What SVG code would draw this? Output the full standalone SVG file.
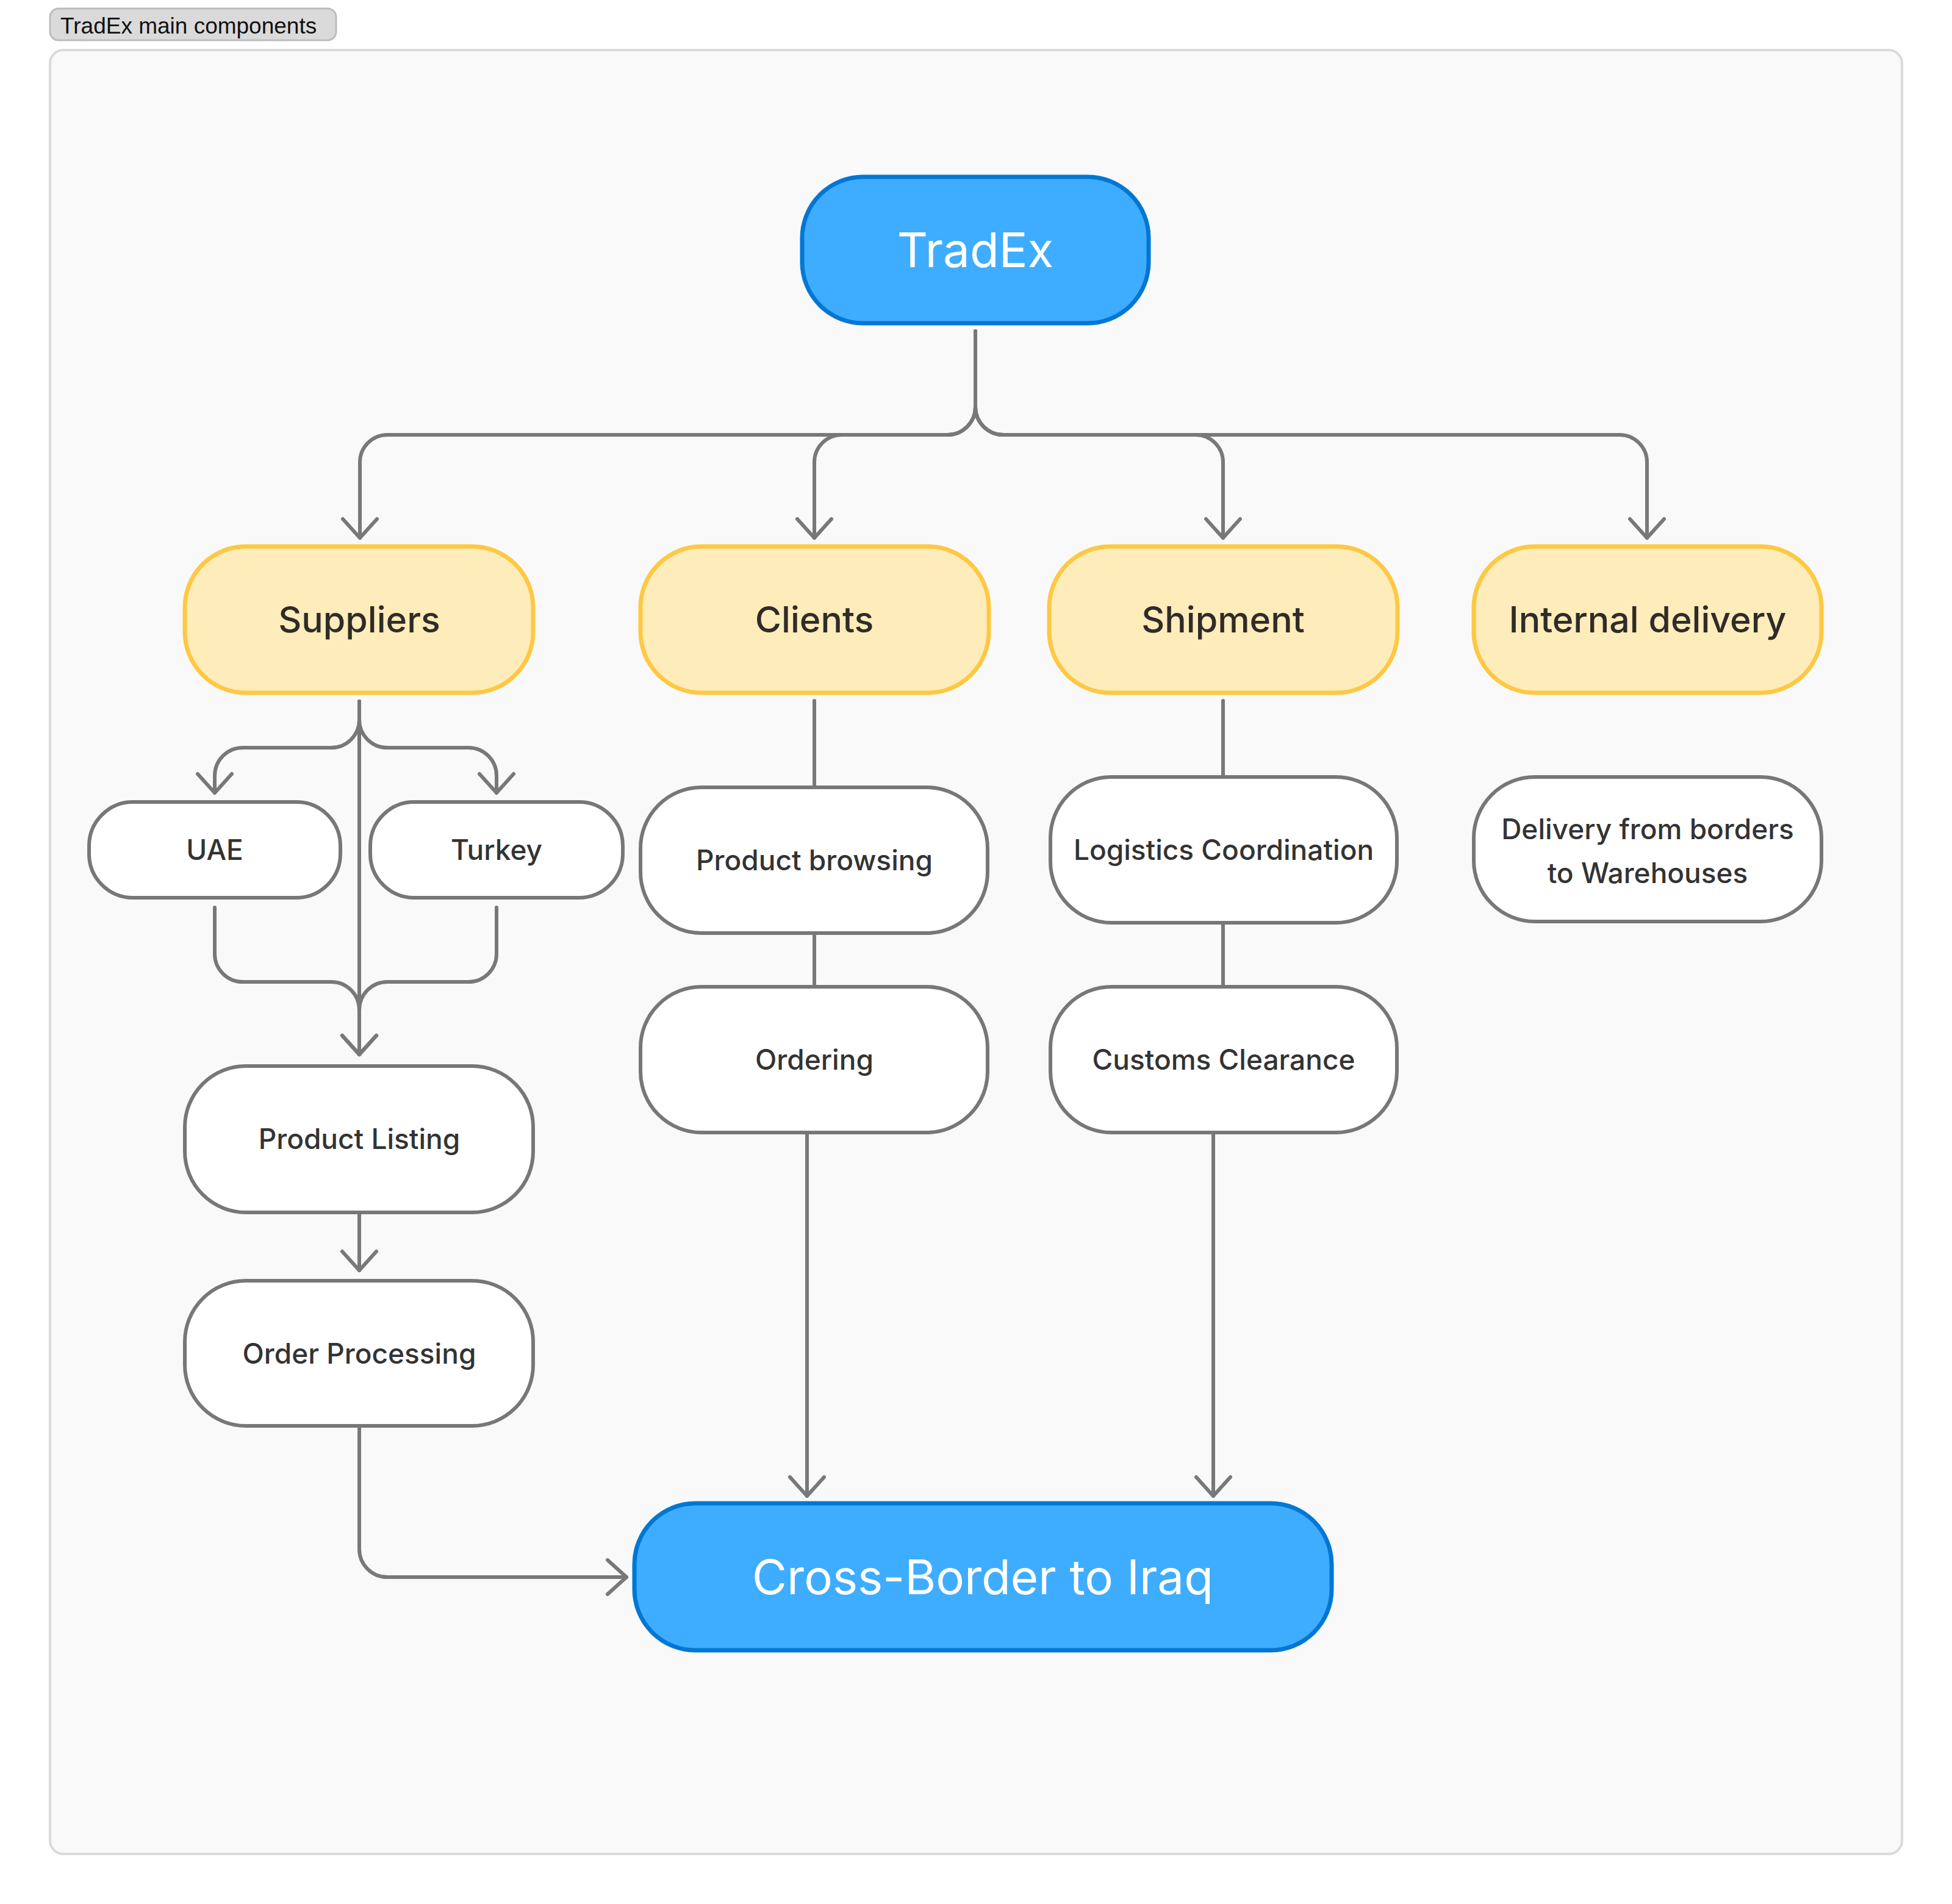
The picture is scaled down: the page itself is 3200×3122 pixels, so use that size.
<svg xmlns="http://www.w3.org/2000/svg" width="3200" height="3122" viewBox="0 0 3200 3122">
<defs>
<style>
.bg{fill:#ffffff}
.frame{fill:#f9f9f9;stroke:#dadada;stroke-width:4}
.tag{fill:#dadada;stroke:#bdbdbd;stroke-width:3}
.tagt{font-family:"Liberation Sans",Arial,sans-serif;font-size:37px;fill:#111}
.blue{fill:#3fadff;stroke:#0077d4;stroke-width:7}
.yel{fill:#ffecbb;stroke:#ffc843;stroke-width:7}
.wht{fill:#ffffff;stroke:#777777;stroke-width:6}
.tb{font-family:Inter,"Noto Sans",sans-serif;font-size:78px;fill:#ffffff;text-anchor:middle}
.ty{font-family:Inter,"Noto Sans",sans-serif;font-size:59px;font-weight:500;fill:#2f2c28;text-anchor:middle}
.tw{font-family:Inter,"Noto Sans",sans-serif;font-size:46px;font-weight:500;fill:#333333;text-anchor:middle}
.c{fill:none;stroke:#787878;stroke-width:6;stroke-linecap:round;stroke-linejoin:round}
</style>
<marker id="arr" markerUnits="userSpaceOnUse" viewBox="-40 -40 50 80" refX="0" refY="0" markerWidth="50" markerHeight="80" orient="auto" overflow="visible">
<path d="M -31 -28 L 0 0 L -31 28" fill="none" stroke="#787878" stroke-width="6" stroke-linecap="round" stroke-linejoin="round"/>
</marker>
</defs>
<rect class="bg" x="0" y="0" width="3200" height="3122"/>
<rect class="frame" x="82" y="82" width="3036" height="2958" rx="22"/>
<g id="title">
<rect class="tag" x="82" y="14" width="469" height="52" rx="14"/>
<text class="tagt" x="99" y="55">TradEx main components</text>
</g>
<g id="connectors">
<path class="c" marker-end="url(#arr)" d="M1599 543 V667 A46 46 0 0 1 1553 713 H635 A45 45 0 0 0 590 758 V882"/>
<path class="c" marker-end="url(#arr)" d="M1599 543 V667 A46 46 0 0 1 1553 713 H1380 A45 45 0 0 0 1335 758 V882"/>
<path class="c" marker-end="url(#arr)" d="M1599 543 V667 A46 46 0 0 0 1645 713 H1960 A45 45 0 0 1 2005 758 V882"/>
<path class="c" marker-end="url(#arr)" d="M1599 543 V667 A46 46 0 0 0 1645 713 H2655 A45 45 0 0 1 2700 758 V882"/>
<path class="c" marker-end="url(#arr)" d="M589 1150 V1180 A46 46 0 0 1 543 1226 H398 A46 46 0 0 0 352 1272 V1300"/>
<path class="c" marker-end="url(#arr)" d="M589 1150 V1180 A46 46 0 0 0 635 1226 H768 A46 46 0 0 1 814 1272 V1300"/>
<path class="c" marker-end="url(#arr)" d="M589 1150 V1729"/>
<path class="c" marker-end="url(#arr)" d="M352 1488 V1564 A46 46 0 0 0 398 1610 H543 A46 46 0 0 1 589 1656 V1729"/>
<path class="c" marker-end="url(#arr)" d="M814 1488 V1564 A46 46 0 0 1 768 1610 H635 A46 46 0 0 0 589 1656 V1729"/>
<path class="c" marker-end="url(#arr)" d="M589 1991 V2083"/>
<path class="c" marker-end="url(#arr)" d="M589 2341 V2540 A46 46 0 0 0 635 2586 H1027"/>
<path class="c" d="M1335 1149 V1288"/>
<path class="c" d="M1335 1533 V1615"/>
<path class="c" marker-end="url(#arr)" d="M1323 1860 V2453"/>
<path class="c" d="M2005 1149 V1271"/>
<path class="c" d="M2005 1516 V1615"/>
<path class="c" marker-end="url(#arr)" d="M1989 1860 V2453"/>
</g>
<g id="n-tradex">
<rect class="blue" x="1315" y="290" width="568" height="240" rx="100"/>
<text class="tb" x="1599" y="438">TradEx</text>
</g>
<g id="n-suppliers">
<rect class="yel" x="303" y="896" width="571" height="240" rx="100"/>
<text class="ty" x="589" y="1037">Suppliers</text>
</g>
<g id="n-clients">
<rect class="yel" x="1050" y="896" width="571" height="240" rx="100"/>
<text class="ty" x="1335" y="1037">Clients</text>
</g>
<g id="n-shipment">
<rect class="yel" x="1720" y="896" width="571" height="240" rx="100"/>
<text class="ty" x="2005" y="1037">Shipment</text>
</g>
<g id="n-internal">
<rect class="yel" x="2416" y="896" width="570" height="240" rx="100"/>
<text class="ty" x="2701" y="1037">Internal delivery</text>
</g>
<g id="n-uae">
<rect class="wht" x="146" y="1315" width="412" height="157" rx="72"/>
<text class="tw" x="352" y="1410">UAE</text>
</g>
<g id="n-turkey">
<rect class="wht" x="607" y="1315" width="414" height="157" rx="72"/>
<text class="tw" x="814" y="1410">Turkey</text>
</g>
<g id="n-listing">
<rect class="wht" x="303" y="1748" width="571" height="240" rx="100"/>
<text class="tw" x="589" y="1884">Product Listing</text>
</g>
<g id="n-processing">
<rect class="wht" x="303" y="2100" width="571" height="238" rx="100"/>
<text class="tw" x="589" y="2236">Order Processing</text>
</g>
<g id="n-browsing">
<rect class="wht" x="1050" y="1291" width="569" height="239" rx="100"/>
<text class="tw" x="1335" y="1427">Product browsing</text>
</g>
<g id="n-ordering">
<rect class="wht" x="1050" y="1618" width="569" height="239" rx="100"/>
<text class="tw" x="1335" y="1754">Ordering</text>
</g>
<g id="n-logistics">
<rect class="wht" x="1722" y="1274" width="568" height="239" rx="100"/>
<text class="tw" x="2006" y="1410">Logistics Coordination</text>
</g>
<g id="n-customs">
<rect class="wht" x="1722" y="1618" width="568" height="239" rx="100"/>
<text class="tw" x="2006" y="1754">Customs Clearance</text>
</g>
<g id="n-delivery">
<rect class="wht" x="2416" y="1274" width="570" height="237" rx="100"/>
<text class="tw" x="2701" y="1376">Delivery from borders</text>
<text class="tw" x="2701" y="1448">to Warehouses</text>
</g>
<g id="n-cross">
<rect class="blue" x="1040" y="2465" width="1143" height="241" rx="100"/>
<text class="tb" x="1611" y="2614">Cross-Border to Iraq</text>
</g>
</svg>
